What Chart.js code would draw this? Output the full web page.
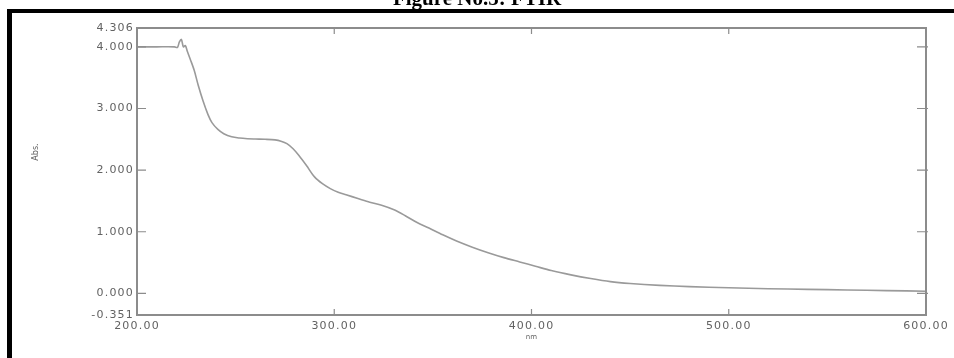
<!DOCTYPE html>
<html>
<head>
<meta charset="utf-8">
<script src="https://cdn.jsdelivr.net/npm/chart.js@4"></script>
<style>
html,body{margin:0;padding:0;background:#fff;}
#wrap{position:relative;width:954px;height:358px;overflow:hidden;}
canvas{display:block;}
</style>
</head>
<body>
<div id="wrap"><canvas id="chart-uv" width="954" height="358"></canvas></div>
<script>
// ===== Data =====
const wavelength = [200,210,219,220.5,221.5,222.5,223.5,224.5,225.5,227,229,231,233.5,236,238,241,244,248,252,256,260,265,270,273,276,279,282,286,290,294,298,302,306,312,318,324,330,336,342,348,355,362,370,378,386,394,402,410,420,430,440,450,465,480,500,520,540,560,580,600];
const absorbance = [4.0,4.0,4.0,3.99,4.08,4.12,4.0,4.02,3.93,3.80,3.62,3.38,3.12,2.90,2.77,2.66,2.59,2.54,2.52,2.51,2.505,2.50,2.49,2.47,2.43,2.35,2.24,2.07,1.89,1.78,1.70,1.64,1.60,1.54,1.48,1.43,1.36,1.26,1.15,1.06,0.95,0.85,0.75,0.66,0.58,0.51,0.44,0.37,0.30,0.24,0.19,0.16,0.13,0.11,0.09,0.075,0.065,0.055,0.045,0.035];
const yTicks = [4.306, 4.000, 3.000, 2.000, 1.000, 0.000, -0.351];
const xTicks = [200, 300, 400, 500, 600];
const figTitle = 'Figure No.5: FTIR';
const xTitle = 'nm';
const yTitle = 'Abs.';

// ===== Shortcuts =====
const qs = (s, el=document)=>el.querySelector(s);
const GREY = '#8c8c8c';
const LABEL = '#626262';

// ===== Decorations (frame, inward ticks, titles) =====
const decor = {
  id: 'decor',
  beforeDraw(chart){ chart.ctx.letterSpacing = '1.2px'; },
  afterDraw(chart){
    const {ctx, chartArea:a, scales:{x, y}} = chart;
    ctx.save();
    ctx.letterSpacing = '0px';
    // plot box
    ctx.strokeStyle = GREY; ctx.lineWidth = 2;
    ctx.strokeRect(a.left, a.top, a.right - a.left, a.bottom - a.top);
    // inward ticks
    ctx.lineWidth = 1.2;
    ctx.beginPath();
    x.ticks.forEach(t=>{
      const px = x.getPixelForValue(t.value);
      ctx.moveTo(px, a.bottom); ctx.lineTo(px, a.bottom - 6);
      ctx.moveTo(px, a.top); ctx.lineTo(px, a.top + 6);
    });
    y.ticks.forEach(t=>{
      if (t.value === yTicks[0] || t.value === yTicks[yTicks.length-1]) return;
      const py = y.getPixelForValue(t.value);
      ctx.moveTo(a.left, py); ctx.lineTo(a.left + 9, py);
      ctx.moveTo(a.right + 2, py); ctx.lineTo(a.right - 9, py);
    });
    ctx.stroke();
    // axis titles
    ctx.fillStyle = LABEL;
    ctx.font = '7px "DejaVu Sans"';
    ctx.textAlign = 'center'; ctx.textBaseline = 'middle';
    ctx.fillText(xTitle, x.getPixelForValue(400), 337);
    ctx.translate(36, 152); ctx.rotate(-Math.PI/2);
    ctx.font = '8px "DejaVu Sans"';
    ctx.fillText(yTitle, 0, 0);
    ctx.restore();

    // page frame + figure caption
    ctx.save();
    ctx.letterSpacing = '0px';
    ctx.fillStyle = '#000';
    ctx.fillRect(7, 9, chart.width - 7, 4);
    ctx.fillRect(7, 9, 5, chart.height);
    ctx.font = 'bold 21px "Liberation Serif"';
    ctx.textAlign = 'center'; ctx.textBaseline = 'alphabetic';
    ctx.fillText(figTitle, 477, 5);
    ctx.restore();
  }
};

// ===== Chart =====
function renderChart(){
  const el = qs('#chart-uv');
  const points = wavelength.map((w, i)=>({x: w, y: absorbance[i]}));
  const tickFont = {family: '"DejaVu Sans"', size: 11};
  return new Chart(el, {
    type: 'line',
    data: {
      datasets: [{
        data: points,
        borderColor: '#9a9a9a',
        borderWidth: 1.6,
        pointRadius: 0,
        tension: 0.3
      }]
    },
    options: {
      responsive: false,
      animation: false,
      layout: {padding: {left: 0, top: 28, right: 28, bottom: 0}},
      plugins: {legend: {display: false}, tooltip: {enabled: false}},
      scales: {
        x: {
          type: 'linear', min: 200, max: 600,
          afterBuildTicks: s=>{ s.ticks = xTicks.map(v=>({value: v})); },
          afterFit: s=>{ s.height = 43; },
          grid: {display: false, drawTicks: false},
          border: {display: false},
          ticks: {
            color: LABEL, font: tickFont, padding: 5, autoSkip: false, maxRotation: 0,
            callback: v=>Number(v).toFixed(2)
          }
        },
        y: {
          type: 'linear', min: yTicks[yTicks.length-1], max: yTicks[0],
          afterBuildTicks: s=>{ s.ticks = yTicks.map(v=>({value: v})); },
          afterFit: s=>{ s.width = 137; },
          grid: {display: false, drawTicks: false},
          border: {display: false},
          ticks: {
            color: LABEL, font: tickFont, padding: 3, autoSkip: false,
            callback: v=>Number(v).toFixed(3)
          }
        }
      }
    },
    plugins: [decor]
  });
}

window.addEventListener('DOMContentLoaded', ()=>{ renderChart(); });
</script>
</body>
</html>
